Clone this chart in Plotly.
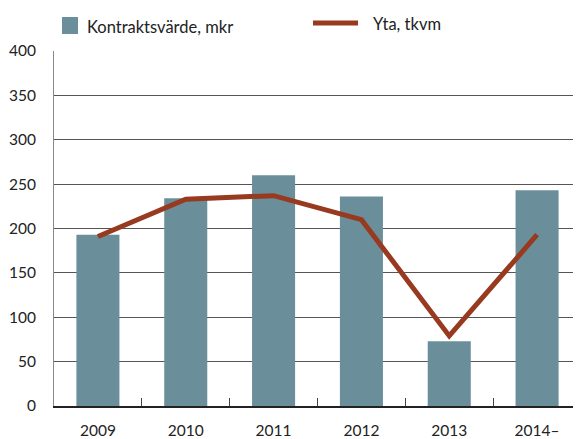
import plotly.graph_objects as go

years = ["2009", "2010", "2011", "2012", "2013", "2014–"]
kontraktsvarde = [193, 234, 260, 236, 73, 243]
yta = [191, 233, 237, 210, 79, 193]
yticks = [0, 50, 100, 150, 200, 250, 300, 350, 400]

BAR = "#6a8f9a"
LINE = "#973a1f"
FONT = "Lato"

# page body has an 8px margin; figure is sized to fill the rest of the window
OFF = 8
W, H = 581 - OFF, 439 - OFF
PL, PT, PR, PB = 54, 51, 581, 406  # plot area in window pixels
PW, PH = PR - PL, PB - PT

xs = list(range(len(years)))

fig = go.Figure()
fig.add_trace(go.Bar(x=xs, y=kontraktsvarde, name="Kontraktsvärde, mkr",
                     marker=dict(color=BAR, line=dict(width=0)), width=0.49,
                     showlegend=False))
fig.add_trace(go.Scatter(x=xs, y=yta, name="Yta, tkvm", mode="lines",
                         line=dict(color=LINE, width=5), showlegend=False))
fig.add_trace(go.Scatter(x=[-0.5, 5.5], y=[None, None], xaxis="x2", showlegend=False,
                         hoverinfo="skip"))

fig.update_layout(
    width=W, height=H,
    margin=dict(l=PL - OFF, r=0, t=PT - OFF, b=H - (PB - OFF), autoexpand=False),
    paper_bgcolor="white", plot_bgcolor="white",
    font=dict(family=FONT, size=15.5, color="#222"),
    xaxis=dict(range=[-0.5, 5.5], tickvals=xs, ticktext=years, ticks="",
               showgrid=False, zeroline=False, showline=True, linecolor="#222",
               linewidth=1.5, tickfont=dict(size=15.5), ticklabelstandoff=10),
    xaxis2=dict(range=[-0.5, 5.5], overlaying="x", side="bottom",
                tickvals=[0.5, 1.5, 2.5, 3.5, 4.5], ticks="inside", ticklen=8,
                tickcolor="#444", tickwidth=1, showticklabels=False,
                showgrid=False, zeroline=False, showline=False),
    yaxis=dict(range=[0, 400], tickvals=yticks, ticks="", showgrid=True,
               gridcolor="#555", gridwidth=1, zeroline=False, showline=True,
               linecolor="#888", linewidth=1, tickfont=dict(size=15.5),
               ticklabelstandoff=14),
)

def px(x):
    return (x - PL) / PW

def py(y):
    return (PB - y) / PH

fig.add_shape(type="rect", xref="paper", yref="paper",
              x0=px(62), x1=px(78), y0=py(34), y1=py(17),
              fillcolor=BAR, line=dict(width=0))
fig.add_annotation(xref="paper", yref="paper", x=px(85), y=py(27),
                   text="Kontraktsvärde, mkr", showarrow=False, xanchor="left",
                   yanchor="middle", font=dict(size=16.5, family=FONT, color="#222"))
fig.add_shape(type="line", xref="paper", yref="paper",
              x0=px(313), x1=px(358), y0=py(23), y1=py(23),
              line=dict(color=LINE, width=5))
fig.add_annotation(xref="paper", yref="paper", x=px(371), y=py(24),
                   text="Yta, tkvm", showarrow=False, xanchor="left",
                   yanchor="middle", font=dict(size=16.5, family=FONT, color="#222"))

fig.write_html("out.html")
